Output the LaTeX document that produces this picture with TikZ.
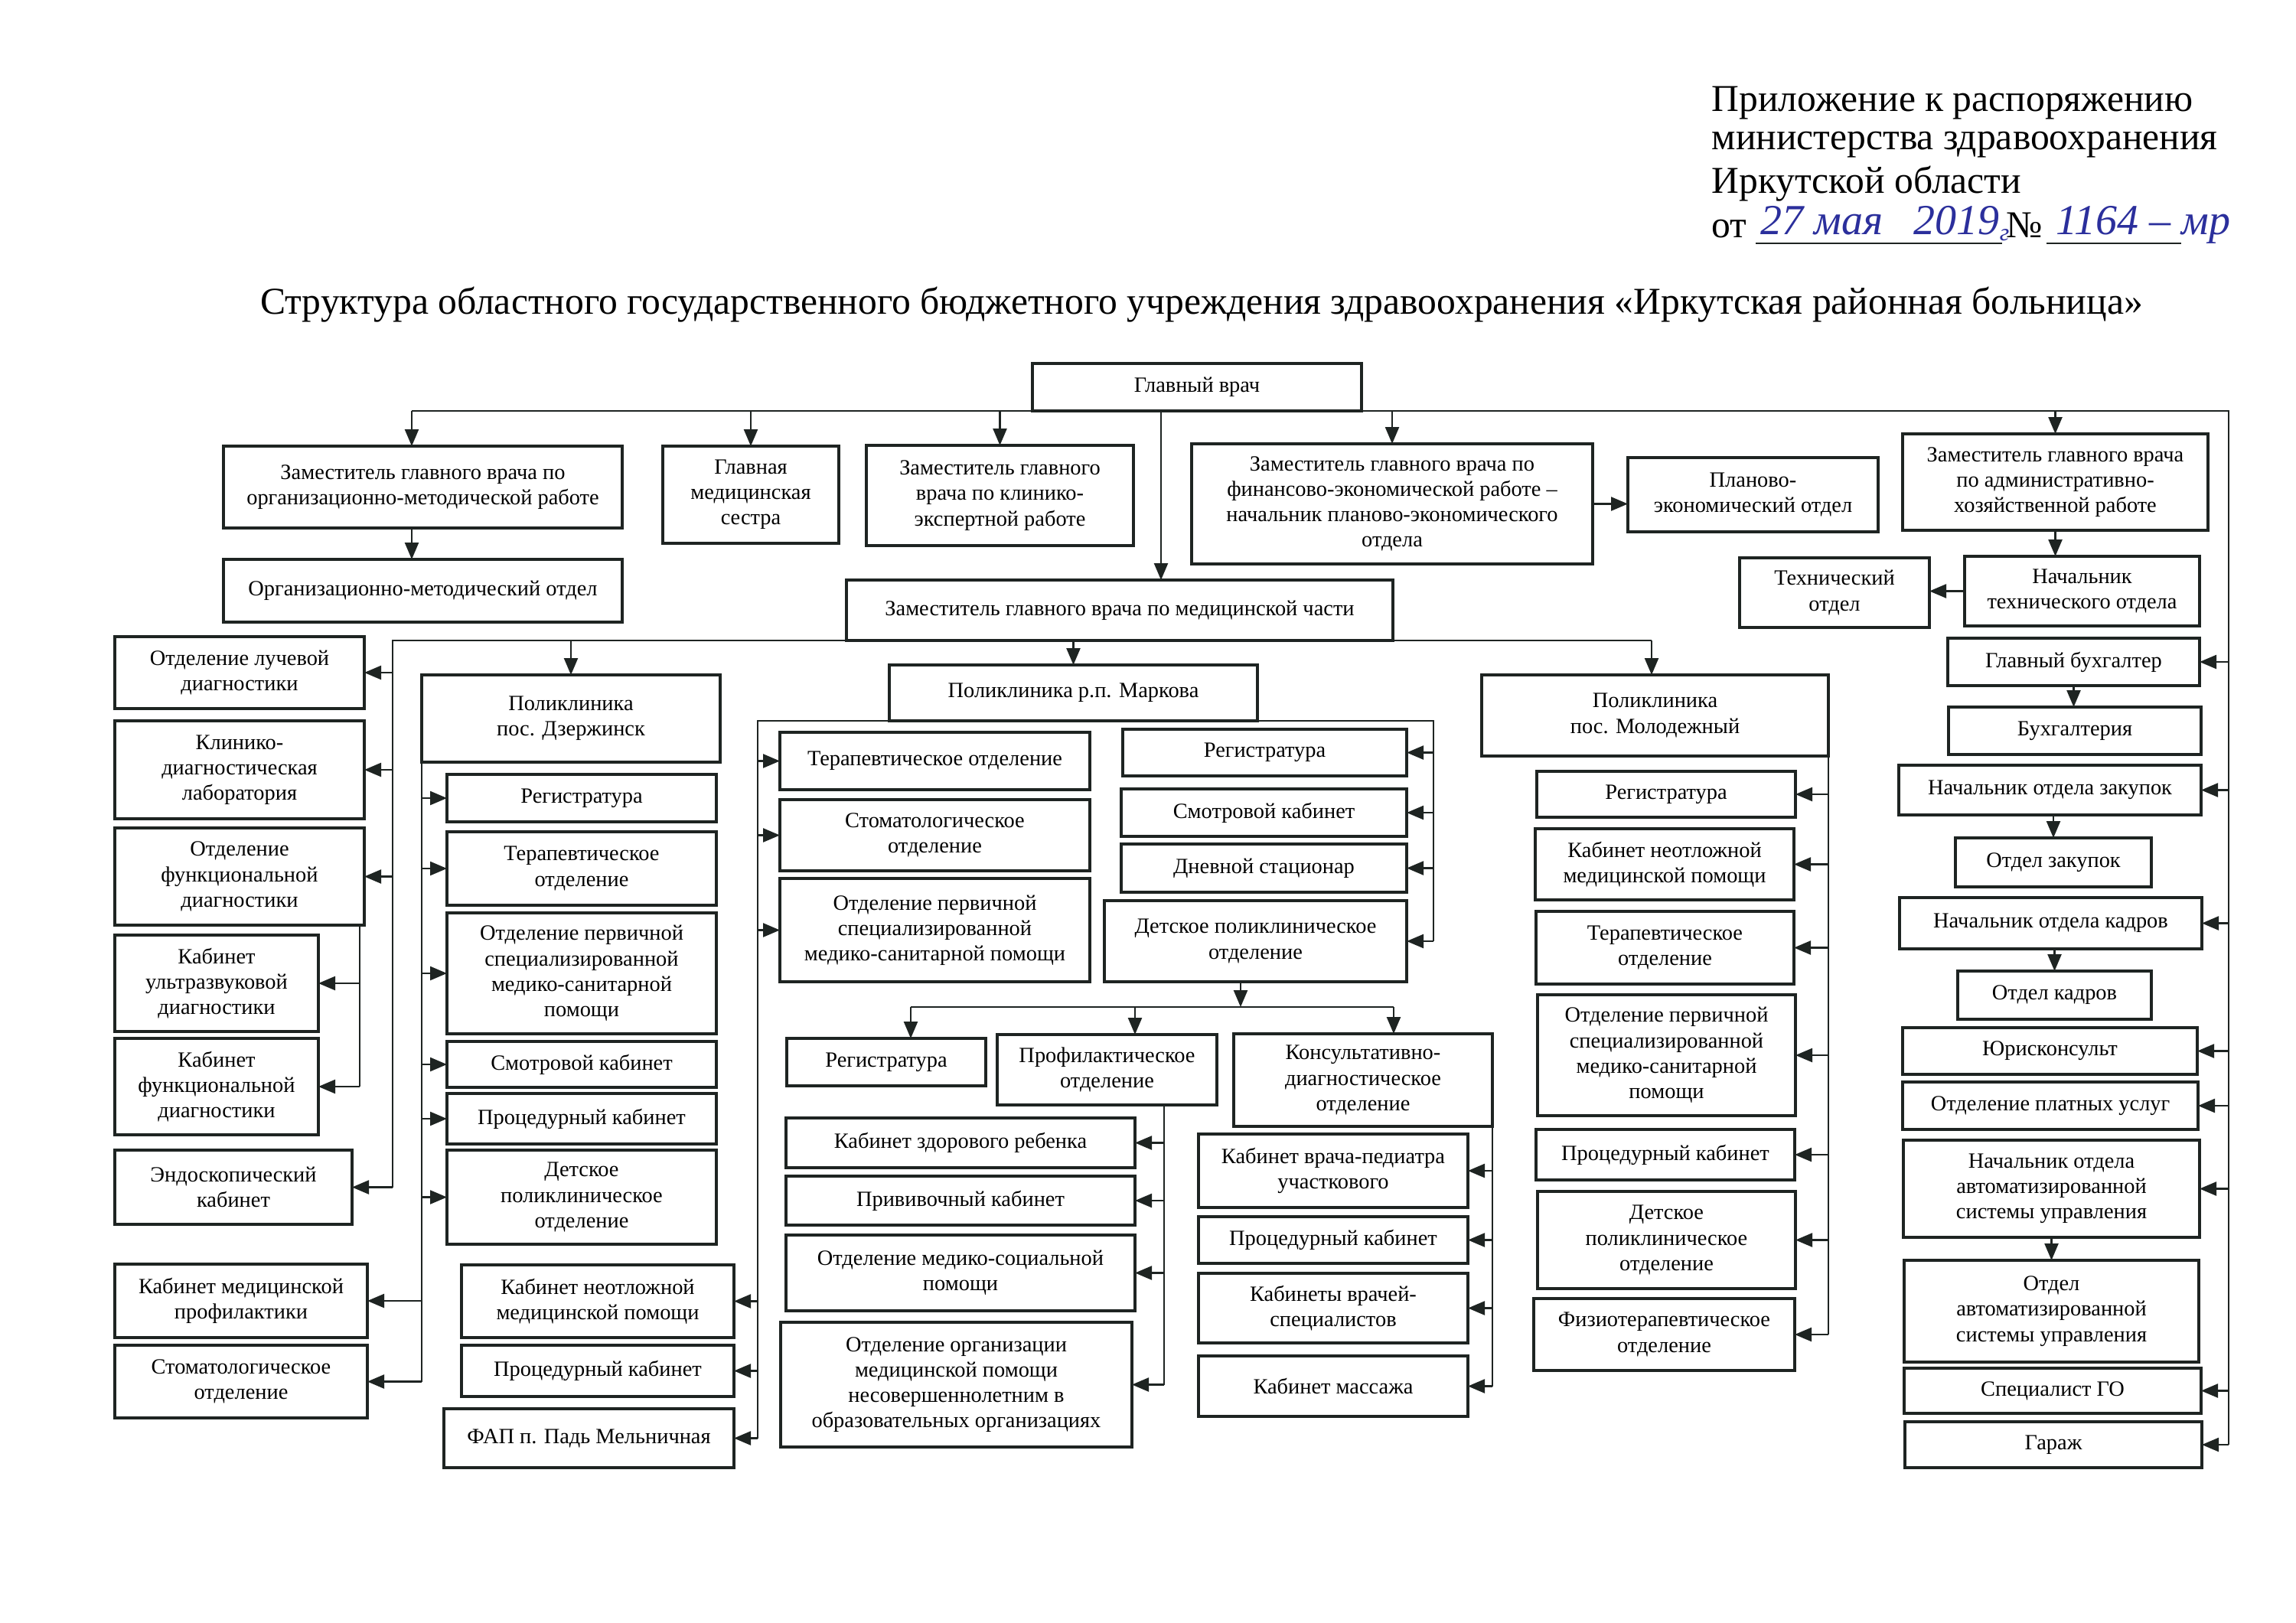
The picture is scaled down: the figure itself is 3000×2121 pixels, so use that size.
\documentclass[tikz,border=0pt]{standalone}
\usepackage{fontspec}
\setmainfont{Liberation Serif}
\usetikzlibrary{arrows.meta}
\definecolor{ink}{HTML}{1E2422}
\definecolor{hand}{HTML}{2B2F9C}
\newcommand\boxfont{\fontsize{7.1}{8.3}\selectfont}
\newcommand\hdfont{\fontsize{12.4}{14.2}\selectfont}
\newcommand\handfont{\fontsize{14}{14}\selectfont\itshape}
\newcommand\bx[6]{%
  \pgfmathsetmacro\mybw{(#4-#2)*0.25}%
  \pgfmathsetmacro\mybh{(#5-#3)*0.25}%
  \node[box, minimum width=\mybw pt, minimum height=\mybh pt] (#1) at ({(#2+#4)/2},{(#3+#5)/2}) {#6};}
\begin{document}
\begin{tikzpicture}[x=0.25pt,y=-0.25pt,
  box/.style={draw=ink, line width=0.85pt, inner sep=1pt, outer sep=0pt, align=center, font=\boxfont, text=black},
  ln/.style={draw=ink, line width=0.6pt, line join=miter},
  arr/.style={draw=ink, line width=0.6pt, -{Triangle[length=5.5pt,width=4.5pt]}},
  hd/.style={anchor=base west, inner sep=0pt, font=\hdfont},
  hw/.style={anchor=base west, inner sep=0pt, font=\handfont, text=hand}]
\fill[white] (0,0) rectangle (3000,2121);
\useasboundingbox (0,0) rectangle (3000,2121);

% header
\node[hd] (h1) at (2236,145) {Приложение к распоряжению};
\node[hd] (h2) at (2236,195) {министерства здравоохранения};
\node[hd] (h3) at (2236,252) {Иркутской области};
\node[hd] (h4) at (2236,310) {от};
\node[hw] (hd1) at (2300,306) {27 мая};
\node[hw] (hd1b) at (2500,306) {2019\raisebox{-2pt}{\fontsize{8}{8}\selectfont г}};
\node[hd] (hn) at (2621,310) {№};
\node[hw] (hd2) at (2686,306) {1164 – мр};
\coordinate (u1a) at (2294,318); \coordinate (u1b) at (2616,318);
\coordinate (u2a) at (2674,318); \coordinate (u2b) at (2850,318);
\draw[line width=0.55pt, ink] (u1a) -- (u1b);
\draw[line width=0.55pt, ink] (u2a) -- (u2b);

% title
\node[anchor=base, inner sep=0pt, font=\hdfont] (title) at (1570,410) {Структура областного государственного бюджетного учреждения здравоохранения «Иркутская районная больница»};

% top level
\bx{gv}{1349}{475}{1779}{537}{Главный врач}
\bx{zom}{292}{583}{813}{690}{Заместитель главного врача по\\организационно-методической работе}
\bx{gms}{866}{583}{1096}{710}{Главная\\медицинская\\сестра}
\bx{zke}{1132}{582}{1481}{713}{Заместитель главного\\врача по клинико-\\экспертной работе}
\bx{omo}{292}{731}{813}{813}{Организационно-методический отдел}
\bx{zfin}{1557}{580}{2081}{737}{Заместитель главного врача по\\финансово-экономической работе –\\начальник планово-экономического\\отдела}
\bx{peo}{2127}{598}{2454}{695}{Планово-\\экономический отдел}
\bx{zah}{2486}{567}{2885}{693}{Заместитель главного врача\\по административно-\\хозяйственной работе}
\bx{nto}{2567}{727}{2874}{818}{Начальник\\технического отдела}
\bx{tod}{2273}{729}{2521}{820}{Технический\\отдел}
\bx{zmed}{1106}{758}{1820}{837}{Заместитель главного врача по медицинской части}

% left column
\bx{old}{150}{832}{476}{926}{Отделение лучевой\\диагностики}
\bx{kdl}{150}{942}{476}{1070}{Клинико-\\диагностическая\\лаборатория}
\bx{ofd}{150}{1082}{476}{1209}{Отделение\\функциональной\\диагностики}
\bx{kuzd}{150}{1222}{416}{1348}{Кабинет\\ультразвуковой\\диагностики}
\bx{kfd}{150}{1357}{416}{1483}{Кабинет\\функциональной\\диагностики}
\bx{endo}{150}{1503}{460}{1600}{Эндоскопический\\кабинет}
\bx{kmp}{150}{1652}{480}{1748}{Кабинет медицинской\\профилактики}
\bx{stom1}{150}{1758}{480}{1853}{Стоматологическое\\отделение}

% Dzerzhinsk
\bx{dz}{551}{882}{941}{996}{Поликлиника\\пос. Дзержинск}
\bx{dzreg}{584}{1012}{936}{1074}{Регистратура}
\bx{dzter}{584}{1087}{936}{1183}{Терапевтическое\\отделение}
\bx{dzops}{584}{1193}{936}{1351}{Отделение первичной\\специализированной\\медико-санитарной\\помощи}
\bx{dzsmo}{584}{1361}{936}{1421}{Смотровой кабинет}
\bx{dzpro}{584}{1429}{936}{1495}{Процедурный кабинет}
\bx{dzdet}{584}{1503}{936}{1626}{Детское\\поликлиническое\\отделение}
\bx{nmp}{603}{1653}{959}{1748}{Кабинет неотложной\\медицинской помощи}
\bx{pro2}{603}{1758}{959}{1825}{Процедурный кабинет}
\bx{fap}{580}{1841}{959}{1918}{ФАП п. Падь Мельничная}

% Markova
\bx{mk}{1162}{869}{1643}{942}{Поликлиника р.п. Маркова}
\bx{mkter}{1019}{957}{1424}{1032}{Терапевтическое отделение}
\bx{mkstom}{1019}{1045}{1424}{1138}{Стоматологическое\\отделение}
\bx{mkops}{1019}{1148}{1424}{1283}{Отделение первичной\\специализированной\\медико-санитарной помощи}
\bx{mkreg}{1467}{953}{1838}{1014}{Регистратура}
\bx{mksmo}{1465}{1031}{1838}{1093}{Смотровой кабинет}
\bx{mkdst}{1465}{1103}{1838}{1166}{Дневной стационар}
\bx{mkdet}{1443}{1177}{1838}{1283}{Детское поликлиническое\\отделение}
\bx{reg2}{1028}{1357}{1288}{1419}{Регистратура}
\bx{prof}{1303}{1352}{1590}{1444}{Профилактическое\\отделение}
\bx{kdo}{1612}{1351}{1950}{1472}{Консультативно-\\диагностическое\\отделение}
\bx{kzr}{1027}{1461}{1483}{1526}{Кабинет здорового ребенка}
\bx{priv}{1027}{1537}{1483}{1601}{Прививочный кабинет}
\bx{oms}{1027}{1614}{1483}{1713}{Отделение медико-социальной\\помощи}
\bx{oomp}{1020}{1728}{1479}{1891}{Отделение организации\\медицинской помощи\\несовершеннолетним в\\образовательных организациях}
\bx{kvp}{1566}{1482}{1918}{1578}{Кабинет врача-педиатра\\участкового}
\bx{pro3}{1566}{1590}{1918}{1651}{Процедурный кабинет}
\bx{kvs}{1566}{1664}{1918}{1755}{Кабинеты врачей-\\специалистов}
\bx{kmas}{1566}{1772}{1918}{1851}{Кабинет массажа}

% Molodezhny
\bx{ml}{1936}{882}{2389}{988}{Поликлиника\\пос. Молодежный}
\bx{mlreg}{2008}{1008}{2346}{1068}{Регистратура}
\bx{mlnmp}{2006}{1083}{2344}{1176}{Кабинет неотложной\\медицинской помощи}
\bx{mlter}{2007}{1191}{2344}{1286}{Терапевтическое\\отделение}
\bx{mlops}{2009}{1300}{2346}{1458}{Отделение первичной\\специализированной\\медико-санитарной\\помощи}
\bx{mlpro}{2007}{1476}{2345}{1542}{Процедурный кабинет}
\bx{mldet}{2009}{1557}{2346}{1684}{Детское\\поликлиническое\\отделение}
\bx{mlfiz}{2004}{1697}{2345}{1791}{Физиотерапевтическое\\отделение}

% right column
\bx{gb}{2545}{834}{2874}{896}{Главный бухгалтер}
\bx{buh}{2546}{924}{2876}{986}{Бухгалтерия}
\bx{nz}{2481}{1000}{2876}{1065}{Начальник отдела закупок}
\bx{oz}{2555}{1095}{2811}{1159}{Отдел закупок}
\bx{nk}{2482}{1173}{2877}{1240}{Начальник отдела кадров}
\bx{okd}{2558}{1269}{2811}{1332}{Отдел кадров}
\bx{jur}{2486}{1343}{2871}{1404}{Юрисконсульт}
\bx{opu}{2486}{1414}{2872}{1476}{Отделение платных услуг}
\bx{nasu}{2487}{1490}{2874}{1617}{Начальник отдела\\автоматизированной\\системы управления}
\bx{oasu}{2488}{1647}{2873}{1780}{Отдел\\автоматизированной\\системы управления}
\bx{sgo}{2488}{1788}{2876}{1847}{Специалист ГО}
\bx{gar}{2489}{1858}{2877}{1918}{Гараж}

% ---- connectors: top level
\coordinate (tL) at (538,537);
\coordinate (tR) at (2912,537);
\coordinate (gvm) at (1517,537);
\draw[ln] (tL) -- (tR) -- (tR |- gar.east);
\draw[arr] (tL) -- (tL |- zom.north);
\draw[arr] (gms.north |- tL) -- (gms.north);
\draw[arr] (zke.north |- tL) -- (zke.north);
\draw[arr] (zfin.north |- tL) -- (zfin.north);
\draw[arr] (zah.north |- tL) -- (zah.north);
\draw[arr] (gvm) -- (gvm |- zmed.north);
\draw[arr] (tL |- zom.south) -- (tL |- omo.north);
\draw[arr] (zfin.east) -- (peo.west |- zfin.east);
\draw[arr] (zah.south) -- (zah.south |- nto.north);
\draw[arr] (nto.west) -- (tod.east |- nto.west);
\foreach \n in {gb,nz,nk,jur,opu,nasu,sgo,gar} {\draw[arr] (tR |- \n.east) -- (\n.east);}
\draw[arr] (gb.south) -- (gb.south |- buh.north);
\draw[arr] (oz.north |- nz.south) -- (oz.north);
\draw[arr] (okd.north |- nk.south) -- (okd.north);
\draw[arr] (nasu.south) -- (nasu.south |- oasu.north);

% ---- medical branch
\coordinate (mL) at (513,837);
\coordinate (mR) at (2158,837);
\draw[ln] (mL |- endo.east) -- (mL) -- (mR);
\foreach \n in {old,kdl,ofd,endo} {\draw[arr] (mL |- \n.east) -- (\n.east);}
\draw[arr] (dz.north |- mL) -- (dz.north);
\draw[arr] (mk.north |- mL) -- (mk.north);
\draw[arr] (mR) -- (mR |- ml.north);

% functional diagnostics sub-branch
\coordinate (fL) at (470,1209);
\draw[ln] (fL) -- (fL |- kfd.east);
\foreach \n in {kuzd,kfd} {\draw[arr] (fL |- \n.east) -- (\n.east);}

% Dzerzhinsk
\draw[ln] (dz.south west) -- (dz.south west |- stom1.east);
\foreach \n in {dzreg,dzter,dzops,dzsmo,dzpro,dzdet} {\draw[arr] (dz.south west |- \n.west) -- (\n.west);}
\foreach \n in {kmp,stom1} {\draw[arr] (dz.south west |- \n.east) -- (\n.east);}

% Markova
\coordinate (kL) at (990,942);
\coordinate (kR) at (1873,942);
\draw[ln] (kL |- fap.east) -- (kL) -- (kR) -- (kR |- mkdet.east);
\foreach \n in {mkter,mkstom,mkops} {\draw[arr] (kL |- \n.west) -- (\n.west);}
\foreach \n in {nmp,pro2,fap} {\draw[arr] (kL |- \n.east) -- (\n.east);}
\foreach \n in {mkreg,mksmo,mkdst,mkdet} {\draw[arr] (kR |- \n.east) -- (\n.east);}

\coordinate (dB) at (1621,1316);
\coordinate (s1) at (1190,1316);
\coordinate (s2) at (1483,1316);
\coordinate (s3) at (1821,1316);
\draw[arr] (dB |- mkdet.south) -- (dB);
\draw[ln] (s1) -- (s3);
\draw[arr] (s1) -- (s1 |- reg2.north);
\draw[arr] (s2) -- (s2 |- prof.north);
\draw[arr] (s3) -- (s3 |- kdo.north);

\coordinate (pL) at (1521,1444);
\draw[ln] (pL) -- (pL |- oomp.east);
\foreach \n in {kzr,priv,oms,oomp} {\draw[arr] (pL |- \n.east) -- (\n.east);}

\draw[ln] (kdo.south east) -- (kdo.south east |- kmas.east);
\foreach \n in {kvp,pro3,kvs,kmas} {\draw[arr] (kdo.south east |- \n.east) -- (\n.east);}

% Molodezhny
\draw[ln] (ml.south east) -- (ml.south east |- mlfiz.east);
\foreach \n in {mlreg,mlnmp,mlter,mlops,mlpro,mldet,mlfiz} {\draw[arr] (ml.south east |- \n.east) -- (\n.east);}
\end{tikzpicture}
\end{document}
